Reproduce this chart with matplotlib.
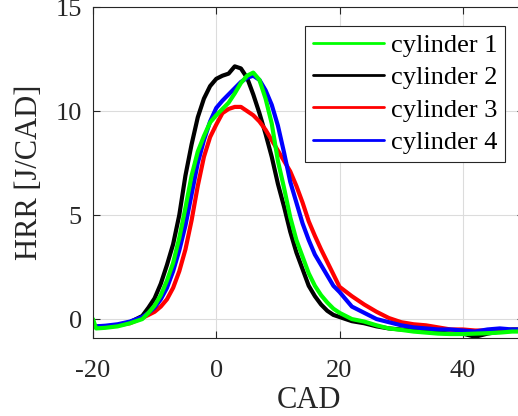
import numpy as np
import matplotlib.pyplot as plt

# crank angle grid (deg)
cad = [-20, -19.5, -18, -16, -14, -12, -11, -10, -9, -8, -7, -6, -5, -4, -3, -2, -1,
       0, 1, 2, 3, 4, 5, 6, 7, 8, 9, 10, 11, 12, 13, 14, 15, 16, 17, 18, 19, 20,
       22, 24, 26, 28, 30, 32, 34, 36, 38, 40, 42, 44, 46, 48, 50]

# heat release rate per cylinder [J/CAD]
cyl1 = [0.0, -0.45, -0.42, -0.35, -0.2, 0.0, 0.3, 0.65, 1.15, 1.85, 2.7, 3.9, 5.35, 6.9, 8.05, 8.8, 9.45,
        9.8, 10.1, 10.4, 10.85, 11.35, 11.7, 11.85, 11.5, 10.6, 9.4, 7.6, 6.3, 4.9, 3.8, 3.0, 2.2, 1.6, 1.15, 0.8, 0.5, 0.3,
        0.0, -0.12, -0.3, -0.45, -0.52, -0.6, -0.65, -0.7, -0.72, -0.72, -0.7, -0.68, -0.65, -0.6, -0.6]
cyl2 = [-0.2, -0.4, -0.38, -0.3, -0.15, 0.15, 0.55, 1.0, 1.7, 2.6, 3.6, 5.0, 6.9, 8.4, 9.7, 10.6, 11.2,
        11.55, 11.7, 11.8, 12.15, 12.05, 11.6, 10.8, 9.9, 8.9, 7.8, 6.5, 5.4, 4.2, 3.2, 2.4, 1.6, 1.1, 0.7, 0.4, 0.2, 0.1,
        -0.1, -0.2, -0.35, -0.45, -0.5, -0.55, -0.6, -0.65, -0.7, -0.7, -0.85, -0.7, -0.6, -0.5, -0.5]
cyl3 = [-0.3, -0.35, -0.35, -0.3, -0.2, 0.05, 0.2, 0.35, 0.6, 0.95, 1.5, 2.3, 3.35, 4.75, 6.4, 7.8, 8.75,
        9.35, 9.9, 10.1, 10.2, 10.2, 10.0, 9.8, 9.5, 9.1, 8.6, 8.1, 7.6, 7.1, 6.4, 5.6, 4.7, 4.0, 3.35, 2.75, 2.15, 1.55,
        1.1, 0.7, 0.35, 0.05, -0.15, -0.25, -0.3, -0.4, -0.5, -0.5, -0.55, -0.55, -0.5, -0.55, -0.55]
cyl4 = [-0.3, -0.35, -0.32, -0.25, -0.12, 0.1, 0.3, 0.55, 0.95, 1.5, 2.3, 3.3, 4.5, 6.0, 7.5, 8.6, 9.5,
        10.15, 10.5, 10.8, 11.1, 11.4, 11.6, 11.7, 11.5, 11.0, 10.3, 9.3, 8.0, 6.6, 5.6, 4.6, 3.8, 3.1, 2.6, 2.1, 1.6, 1.3,
        0.6, 0.3, 0.0, -0.15, -0.3, -0.4, -0.45, -0.5, -0.5, -0.55, -0.6, -0.5, -0.45, -0.5, -0.5]

labels = ['cylinder 1', 'cylinder 2', 'cylinder 3', 'cylinder 4']
colors = ['#00ff00', '#000000', '#ff0000', '#0000ff']

plt.rcParams['font.family'] = ['Liberation Serif', 'DejaVu Serif']
plt.rcParams['axes.unicode_minus'] = False

fig = plt.figure(figsize=(5.18, 4.16), dpi=100)
ax = fig.add_axes([0.1795, 0.188, 0.833, 0.795])

series = [cyl1, cyl2, cyl3, cyl4]
lines = {}
# draw order: black, red, blue, green on top
for i in [1, 2, 3, 0]:
    lines[i], = ax.plot(cad, series[i], color=colors[i], lw=3, label=labels[i],
                        solid_capstyle='round', solid_joinstyle='round')

ax.set_xlim(-20, 50)
ax.set_ylim(-0.9, 15)
ax.set_xticks([-20, 0, 20, 40])
ax.set_yticks([0, 5, 10, 15])
ax.grid(True, color='#dcdcdc', lw=0.8)
ax.set_axisbelow(True)
ax.tick_params(direction='in', top=True, right=True, length=5, width=0.8,
               labelsize=19, colors='#262626')
ax.tick_params(axis='x', pad=16)
ax.tick_params(axis='y', pad=8)
for s in ax.spines.values():
    s.set_color('#262626')
    s.set_linewidth(0.8)

ax.set_xlabel('CAD', fontsize=22, color='#262626', labelpad=3)
ax.set_ylabel('HRR [J/CAD]', fontsize=22, color='#262626', labelpad=8)

leg = ax.legend([lines[i] for i in range(4)], labels, loc='upper right',
                bbox_to_anchor=(0.955, 0.943), borderaxespad=0, fontsize=19,
                handlelength=2.7, handletextpad=0.25, labelspacing=0.33,
                borderpad=0.3, fancybox=False, framealpha=1, edgecolor='#262626')
leg.get_frame().set_linewidth(0.8)
for h in leg.get_lines():
    h.set_linewidth(2)

fig.savefig('out.png', dpi=100)
